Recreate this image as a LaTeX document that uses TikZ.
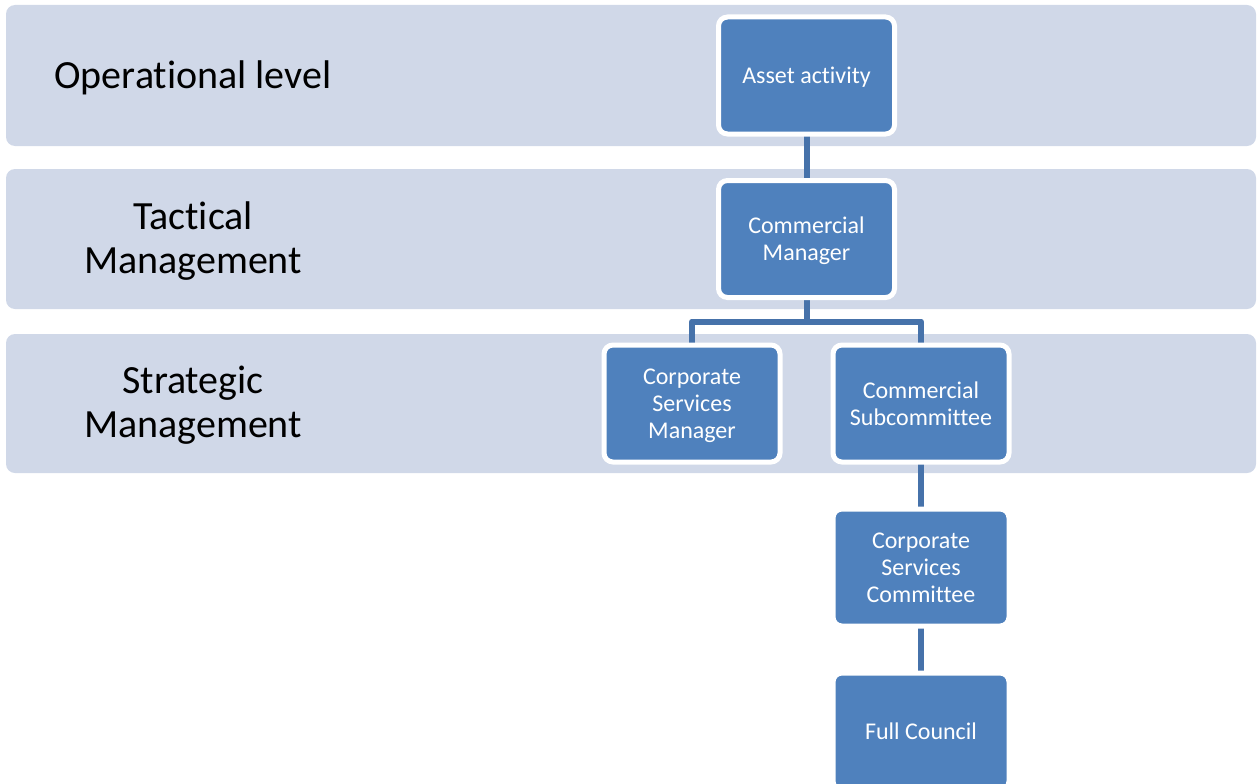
\documentclass[tikz,border=0pt]{standalone}
\usepackage{fontspec}
\setmainfont{Carlito}[Ligatures=NoCommon]
\definecolor{bandfill}{HTML}{D0D8E8}
\definecolor{boxfill}{HTML}{4F81BD}
\definecolor{linkcol}{HTML}{4672AA}
\pgfdeclarelayer{bands}
\pgfdeclarelayer{links}
\pgfsetlayers{bands,links,main}
% box caption, lowered slightly without changing its measured extent
\newcommand{\unitcaption}[1]{\raisebox{-3pt}[\height][\depth]{\begin{tabular}{@{}c@{}}#1\end{tabular}}}
\tikzset{
  band/.style={fill=bandfill, rounded corners=9pt},
  level/.style={align=center, font=\fontsize{40}{44}\selectfont, text=black},
  unit/.style={draw=white, line width=5pt, fill=boxfill, rounded corners=9pt,
    minimum width=176pt, minimum height=117pt, inner sep=0pt,
    text=white, font=\fontsize{24}{27}\selectfont},
  link/.style={draw=linkcol, line width=6pt},
}
\begin{document}
\begin{tikzpicture}[x=1pt, y=-1pt]
\useasboundingbox (0,0) rectangle (1258,784);
\clip (0,0) rectangle (1258,784);

% level bands
\begin{pgfonlayer}{bands}
\fill[band] (6,5) rectangle (1256,146);
\fill[band] (6,169) rectangle (1256,309);
\fill[band] (6,334) rectangle (1256,473);
\end{pgfonlayer}

\node[level] (lop) at (193,78) {Operational level};
\node[level] (ltac) at (193,241) {Tactical\\Management};
\node[level] (lstr) at (193,405) {Strategic\\Management};

% organisation units
\node[unit] (aa)  at (806.5,75.5)  {\unitcaption{Asset activity}};
\node[unit] (cm)  at (806.5,239)   {\unitcaption{Commercial\\Manager}};
\node[unit] (csm) at (692,403.5)   {\unitcaption{Corporate\\Services\\Manager}};
\node[unit] (cs)  at (921,403.5)   {\unitcaption{Commercial\\Subcommittee}};
\node[unit] (csc) at (921,567.5)   {\unitcaption{Corporate\\Services\\Committee}};
\node[unit] (fc)  at (921,731.5)   {\unitcaption{Full Council}};

% reporting lines
\begin{pgfonlayer}{links}
\draw[link] (aa.center) -- (cm.center);
\coordinate (split) at (806.5,321.5);
\draw[link, line join=round] (cm.center) -- (split) -| (csm.center);
\draw[link, line join=round] (split) -| (cs.center);
\draw[link] (cs.center) -- (csc.center);
\draw[link] (csc.center) -- (fc.center);
\end{pgfonlayer}
\end{tikzpicture}
\end{document}
